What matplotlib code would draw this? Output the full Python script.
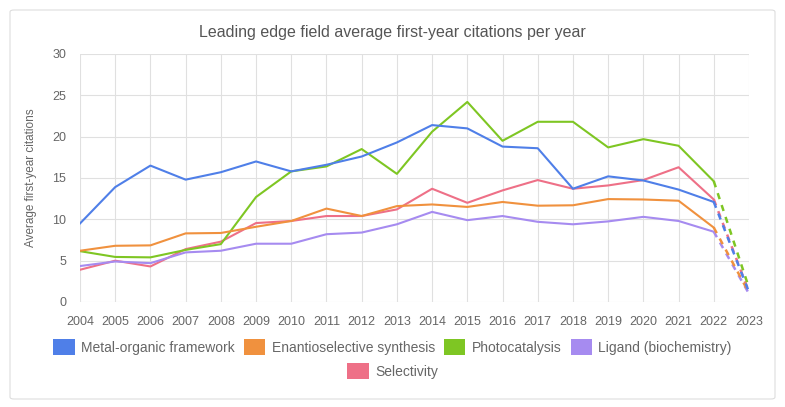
import matplotlib.pyplot as plt
from matplotlib.patches import Patch, FancyBboxPatch

plt.rcParams['font.family'] = ['Liberation Sans', 'DejaVu Sans']

years = list(range(2004, 2024))
series_names = ['Metal-organic framework', 'Enantioselective synthesis', 'Photocatalysis',
                'Ligand (biochemistry)', 'Selectivity']
colors = ['#4f7fe8', '#f0913e', '#7ec623', '#a68bf0', '#ee7087']

mof = [9.5, 13.9, 16.5, 14.8, 15.7, 17.0, 15.8, 16.6, 17.6, 19.3, 21.4, 21.0, 18.8, 18.6,
       13.7, 15.2, 14.7, 13.6, 12.1, 1.2]
enantio = [6.2, 6.8, 6.85, 8.3, 8.35, 9.1, 9.8, 11.3, 10.4, 11.6, 11.8, 11.5, 12.1, 11.65,
           11.7, 12.45, 12.4, 12.25, 9.0, 1.1]
photo = [6.15, 5.45, 5.4, 6.3, 7.0, 12.7, 15.8, 16.4, 18.5, 15.5, 20.6, 24.2, 19.5, 21.8,
         21.8, 18.7, 19.7, 18.9, 14.6, 1.7]
ligand = [4.35, 4.9, 4.7, 6.0, 6.2, 7.05, 7.05, 8.2, 8.4, 9.4, 10.9, 9.9, 10.4, 9.7,
          9.4, 9.75, 10.3, 9.8, 8.5, 1.0]
select = [3.9, 5.0, 4.3, 6.4, 7.3, 9.55, 9.8, 10.4, 10.4, 11.2, 13.7, 12.0, 13.5, 14.75,
          13.7, 14.1, 14.75, 16.3, 12.4, 1.2]
all_series = [mof, enantio, photo, ligand, select]

W, H = 785, 407
fig = plt.figure(figsize=(W / 100, H / 100), dpi=100)
card = FancyBboxPatch((10 / W, 8 / H), 765 / W, 389 / H,
                      boxstyle='round,pad=0,rounding_size=0.005',
                      transform=fig.transFigure, facecolor='white',
                      edgecolor='#dddddd', linewidth=0.8, zorder=-10)
fig.patches.append(card)

ax = fig.add_axes([80 / W, (H - 302) / H, (749 - 80) / W, (302 - 54) / H])
ax.set_facecolor('none')

# draw later series first so blue sits on top
for vals, c in reversed(list(zip(all_series, colors))):
    ax.plot(years[:-1], vals[:-1], color=c, lw=1.5, solid_joinstyle='round')
    ax.plot(years[-2:], vals[-2:], color=c, lw=1.8, ls=(0, (2.5, 2.5)))

ax.set_xlim(2004, 2023)
ax.set_ylim(0, 30)
ax.set_xticks(years)
ax.set_yticks(range(0, 31, 5))
ax.grid(True, color='#e0e0e0', lw=0.8)
ax.set_axisbelow(True)
for s in ax.spines.values():
    s.set_visible(False)
ax.tick_params(length=0, labelsize=9, labelcolor='#666666')
ax.tick_params(axis='x', pad=10)
ax.tick_params(axis='y', pad=10)
ax.set_ylabel('Average first-year citations', fontsize=8.5, color='#666666', labelpad=11)
fig.text(392 / W, (H - 33) / H, 'Leading edge field average first-year citations per year',
         ha='center', va='center', fontsize=11.5, color='#555555')

handles = [Patch(facecolor=c, edgecolor='none') for c in colors]
leg_kw = dict(loc='center', frameon=False, fontsize=10, handlelength=1.55,
              handleheight=1.4, handletextpad=0.45, labelcolor='#666666')
fig.legend(handles[:4], series_names[:4], ncol=4, columnspacing=0.65,
           bbox_to_anchor=(0.5, (H - 347) / H), **leg_kw)
fig.legend(handles[4:], series_names[4:], bbox_to_anchor=(0.5, (H - 371) / H), **leg_kw)

fig.savefig('out.png', dpi=100)
